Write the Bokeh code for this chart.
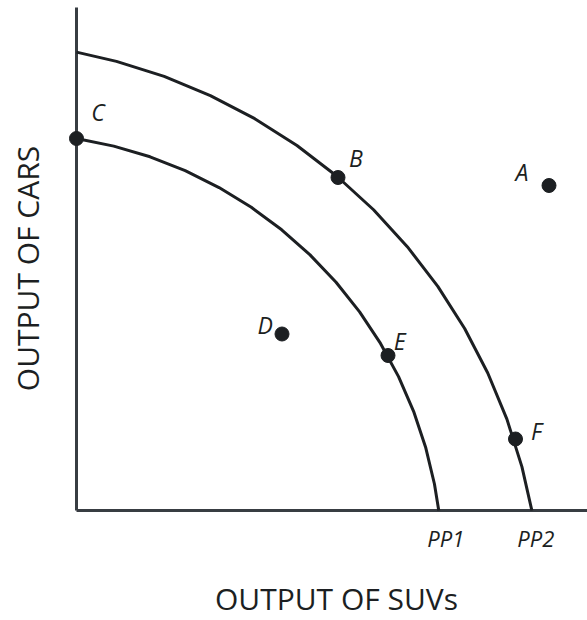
import math
from bokeh.plotting import figure
from bokeh.models import ColumnDataSource, LabelSet, Label, Range1d
from bokeh.core.properties import value
from bokeh.embed import file_html
from bokeh.resources import INLINE

# ---- data (output units) ----
pp1_x = [0.0, 7.45, 14.71, 21.74, 28.51, 34.96, 41.04, 46.71, 51.91, 56.62, 60.80, 64.41, 67.42, 69.82, 71.59, 72.45]
pp1_y = [74.40, 72.88, 70.74, 67.96, 64.59, 60.64, 56.14, 51.13, 45.64, 39.72, 33.41, 26.77, 19.83, 12.66, 5.30, 0.0]
pp2_x = [0.0, 7.99, 17.53, 26.77, 35.65, 44.09, 52.03, 59.41, 66.16, 72.26, 77.63, 82.25, 86.08, 89.09, 91.07]
pp2_y = [91.67, 89.83, 86.82, 82.99, 78.37, 73.00, 66.90, 60.15, 52.77, 44.83, 36.39, 27.51, 18.27, 8.73, 0.0]

point_names = ["A", "B", "C", "D", "E", "F"]
point_suvs = [94.5, 52.3, 0.0, 41.1, 62.3, 87.8]
point_cars = [65.0, 66.6, 74.4, 35.3, 31.0, 14.3]

curve_names = ["PP1", "PP2"]
curve_suvs = [pp1_x[-1], pp2_x[-1]]
curve_cars = [pp1_y[-1], pp2_y[-1]]

x_title = "OUTPUT OF SUVs"
y_title = "OUTPUT OF CARS"

# ---- styling ----
INK = "#1c1f22"
AXIS = "#383d42"
FONT = "Open Sans"
label_dx = [-27, 18, 21.5, -16.7, 11.7, 21]
label_dy = [13.5, 20, 26.5, 9.3, 15, 8.3]
curve_dx = [7, 4]
curve_dy = [-27.5, -27.5]
axis_top_gap = 1.4  # data units left empty above the vertical axis

p = figure(width=587, height=620, output_backend="svg", toolbar_location=None,
           x_axis_location=None, y_axis_location=None,
           x_range=Range1d(-15.2, 102.2), y_range=Range1d(-22.0, 102.0),
           min_border=0)
p.outline_line_color = None
p.grid.visible = False
p.background_fill_color = "white"
p.border_fill_color = "white"

# axes drawn from the origin towards the range ends
p.segment(x0=[0, 0], y0=[0, 0], x1=[p.x_range.end, 0], y1=[0, p.y_range.end - axis_top_gap],
          line_width=3, line_color=AXIS)

p.line(pp1_x, pp1_y, line_width=3, line_color=INK)
p.line(pp2_x, pp2_y, line_width=3, line_color=INK)

psrc = ColumnDataSource(dict(x=point_suvs, y=point_cars, name=point_names, dx=label_dx, dy=label_dy))
p.scatter("x", "y", source=psrc, size=14, fill_color=INK, line_color=INK)
p.add_layout(LabelSet(x="x", y="y", text="name", source=psrc, x_offset="dx", y_offset="dy",
                      text_font=value(FONT), text_font_style="italic", text_font_size="23px",
                      text_color=INK, text_align="center", text_baseline="middle"))

csrc = ColumnDataSource(dict(x=curve_suvs, y=curve_cars, name=curve_names, dx=curve_dx, dy=curve_dy))
p.add_layout(LabelSet(x="x", y="y", text="name", source=csrc, x_offset="dx", y_offset="dy",
                      text_font=value(FONT), text_font_style="italic", text_font_size="22px",
                      text_color=INK, text_align="center", text_baseline="middle"))

# axis titles, offset in pixels from the origin
p.add_layout(Label(x=0, y=0, x_offset=260, y_offset=-88, text=x_title,
                   text_font=FONT, text_font_size="30px", text_color=INK,
                   text_align="center", text_baseline="middle"))
p.add_layout(Label(x=0, y=0, x_offset=-49, y_offset=242, text=y_title, angle=math.pi / 2,
                   text_font=FONT, text_font_size="30px", text_color=INK,
                   text_align="center", text_baseline="middle"))

open("out.html", "w").write(file_html(p, INLINE))
